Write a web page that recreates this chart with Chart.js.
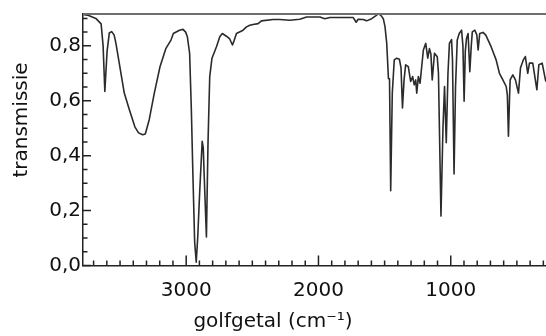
<!DOCTYPE html>
<html>
<head>
<meta charset="utf-8">
<script src="https://cdn.jsdelivr.net/npm/chart.js@4"></script>
<style>
  html, body { margin: 0; padding: 0; background: #fff; }
</style>
</head>
<body>
<canvas id="irChart" width="546" height="336"></canvas>
<script>
// IR spectrum (wavenumber in cm-1, transmission 0..1)
const wavenumbers = [
  3783, 3746, 3683, 3643, 3628, 3615, 3598, 3581, 3564, 3545, 3531, 3506, 3468, 3430, 3388, 3360, 3329, 3309, 3279, 3241,
  3198, 3153, 3115, 3097, 3051, 3024, 3004, 2991, 2974, 2961, 2949, 2936, 2924, 2913, 2898, 2879, 2871, 2864, 2847, 2835,
  2822, 2805, 2771, 2746, 2727, 2696, 2671, 2650, 2637, 2620, 2570, 2544, 2519, 2494, 2456, 2431, 2343, 2292, 2217, 2141,
  2090, 1989, 1952, 1914, 1800, 1737, 1715, 1700, 1662, 1636, 1598, 1565, 1547, 1528, 1510, 1497, 1484, 1471, 1463, 1454,
  1442, 1427, 1409, 1388, 1376, 1365, 1353, 1341, 1321, 1303, 1288, 1276, 1265, 1257, 1245, 1232, 1207, 1189, 1174, 1161,
  1150, 1140, 1123, 1102, 1093, 1074, 1059, 1047, 1034, 1021, 1010, 994, 987, 975, 964, 951, 936, 918, 908, 899,
  890, 881, 869, 856, 845, 837, 818, 803, 793, 781, 756, 735, 695, 657, 632, 606, 581, 572, 564, 555,
  551, 531, 511, 488, 473, 451, 436, 418, 405, 380, 349, 334, 309, 284, 279
];
const transmission = [
  0.915, 0.912, 0.900, 0.880, 0.800, 0.634, 0.780, 0.847, 0.852, 0.840, 0.809, 0.737, 0.628, 0.568, 0.505, 0.483, 0.476, 0.479, 0.532, 0.628,
  0.724, 0.791, 0.821, 0.845, 0.857, 0.860, 0.850, 0.833, 0.773, 0.568, 0.327, 0.086, 0.012, 0.100, 0.267, 0.452, 0.430, 0.330, 0.104, 0.447,
  0.688, 0.755, 0.797, 0.833, 0.845, 0.835, 0.825, 0.803, 0.820, 0.845, 0.857, 0.869, 0.875, 0.878, 0.881, 0.891, 0.896, 0.896, 0.893, 0.897,
  0.905, 0.905, 0.899, 0.903, 0.903, 0.903, 0.886, 0.897, 0.896, 0.891, 0.899, 0.910, 0.917, 0.911, 0.899, 0.870, 0.809, 0.680, 0.680, 0.272,
  0.628, 0.749, 0.755, 0.751, 0.720, 0.574, 0.676, 0.731, 0.724, 0.670, 0.688, 0.658, 0.676, 0.628, 0.688, 0.664, 0.785, 0.809, 0.755, 0.790,
  0.770, 0.676, 0.773, 0.760, 0.700, 0.180, 0.500, 0.652, 0.447, 0.700, 0.809, 0.823, 0.750, 0.333, 0.650, 0.821, 0.845, 0.857, 0.800, 0.598,
  0.780, 0.827, 0.845, 0.706, 0.800, 0.851, 0.857, 0.840, 0.785, 0.845, 0.849, 0.839, 0.797, 0.749, 0.700, 0.676, 0.652, 0.620, 0.471, 0.620,
  0.676, 0.694, 0.676, 0.628, 0.719, 0.749, 0.761, 0.700, 0.737, 0.737, 0.640, 0.731, 0.737, 0.676, 0.669
];

const xTickLabels = [3000, 2000, 1000];
const xMinorTicks = [300, 400, 500, 600, 700, 800, 900, 1000, 1100, 1200, 1300, 1400, 1500, 1600, 1700, 1800, 1900,
  2000, 2100, 2200, 2300, 2400, 2500, 2600, 2700, 2800, 2900, 3000, 3100, 3200, 3300, 3400, 3500, 3600, 3700];
const yTickLabels = [0, 0.2, 0.4, 0.6, 0.8];
const yMinorTicks = [0, 0.05, 0.1, 0.15, 0.2, 0.25, 0.3, 0.35, 0.4, 0.45, 0.5, 0.55, 0.6, 0.65, 0.7, 0.75, 0.8, 0.85, 0.9];

const font = { family: "'DejaVu Sans', sans-serif", size: 20, weight: 'normal' };

// inward ticks, top frame line and the rotated y title
const frame = {
  id: 'frame',
  afterDraw(chart) {
    const { ctx, chartArea: a, scales: { x, y } } = chart;
    ctx.save();
    ctx.strokeStyle = '#222';
    ctx.lineWidth = 1.5;
    ctx.beginPath();
    xMinorTicks.forEach(v => {
      const px = x.getPixelForValue(v);
      const len = xTickLabels.includes(v) ? 10 : 5;
      ctx.moveTo(px, a.bottom);
      ctx.lineTo(px, a.bottom - len);
    });
    yMinorTicks.forEach((v, i) => {
      const py = y.getPixelForValue(v);
      const len = i % 4 === 0 ? 8 : 4.5;
      ctx.moveTo(a.left, py);
      ctx.lineTo(a.left + len, py);
    });
    ctx.stroke();

    ctx.strokeStyle = '#6e6e6e';
    ctx.lineWidth = 2;
    ctx.beginPath();
    ctx.moveTo(a.left, a.top);
    ctx.lineTo(a.right, a.top);
    ctx.stroke();

    ctx.translate(27, 120);
    ctx.rotate(-Math.PI / 2);
    ctx.font = "20px 'DejaVu Sans', sans-serif";
    ctx.fillStyle = '#111';
    ctx.textAlign = 'center';
    ctx.textBaseline = 'alphabetic';
    ctx.fillText('transmissie', 0, 0);
    ctx.restore();
  }
};

new Chart(document.getElementById('irChart'), {
  type: 'line',
  data: {
    datasets: [{
      data: wavenumbers.map((w, i) => ({ x: w, y: transmission[i] })),
      borderColor: '#2b2b2b',
      borderWidth: 1.6,
      pointRadius: 0,
      tension: 0,
      borderJoinStyle: 'round'
    }]
  },
  options: {
    responsive: false,
    animation: false,
    devicePixelRatio: 1,
    layout: { padding: { top: 13.5, right: 0, bottom: 0, left: 0 } },
    plugins: {
      legend: { display: false },
      tooltip: { enabled: false },
      title: {
        display: true,
        position: 'bottom',
        text: 'golfgetal (cm\u207B\u00B9)',
        color: '#111',
        font: font,
        padding: { top: 4, bottom: 2.5 }
      }
    },
    scales: {
      x: {
        type: 'linear',
        reverse: true,
        min: 280,
        max: 3780,
        afterBuildTicks: s => { s.ticks = xTickLabels.map(v => ({ value: v })); },
        afterFit: s => { s.height = 40; },
        grid: { display: false, drawTicks: false },
        border: { display: true, color: '#222', width: 1.5 },
        ticks: {
          padding: 13,
          color: '#111',
          font: font,
          maxRotation: 0,
          autoSkip: false,
          callback: v => String(v)
        }
      },
      y: {
        min: 0,
        max: 0.916,
        afterBuildTicks: s => { s.ticks = yTickLabels.map(v => ({ value: v })); },
        afterFit: s => { s.width = 83; },
        grid: { display: false, drawTicks: false },
        border: { display: true, color: '#222', width: 1.5 },
        ticks: {
          padding: 2,
          color: '#111',
          font: font,
          callback: v => v.toFixed(1).replace('.', ',')
        }
      }
    }
  },
  plugins: [frame]
});
</script>
</body>
</html>
